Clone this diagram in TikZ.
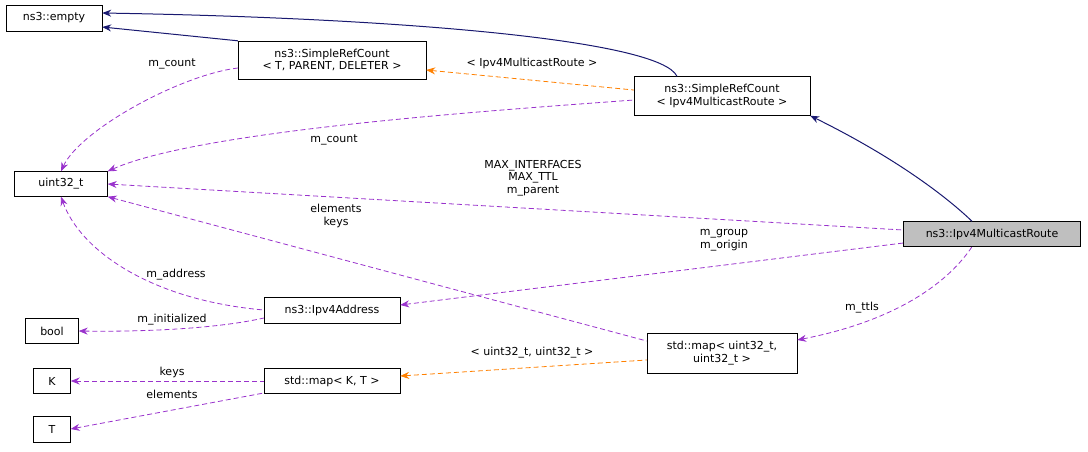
\documentclass[tikz,border=0pt]{standalone}
\usepackage{fontspec}
\setmainfont{DejaVu Sans}
\usetikzlibrary{arrows.meta}
\begin{document}
\begin{tikzpicture}[x=1pt,y=-1pt,
  box/.style={draw,inner sep=0pt,font=\fontsize{11}{12.5}\selectfont,align=center},
  lbl/.style={font=\fontsize{11}{12.5}\selectfont,align=center,inner sep=1pt},
  tip/.style={{Stealth[length=9pt,width=7pt]}-,line width=0.8pt},
  inh/.style={tip,color={rgb,255:red,25;green,25;blue,112},line width=1pt},
  use/.style={tip,color={rgb,255:red,153;green,50;blue,204},dash pattern=on 5pt off 3pt},
  tpl/.style={tip,color=orange,dash pattern=on 5pt off 3pt}]
\useasboundingbox (0,0) rectangle (1088,451);
\node[box,minimum width=96,minimum height=26] (empty) at (54,18) {ns3::empty};
\node[box,minimum width=188,minimum height=38] (srct) at (332,60) {ns3::SimpleRefCount\\\textless{} T, PARENT, DELETER \textgreater};
\node[box,minimum width=176,minimum height=39] (srci) at (722,96) {ns3::SimpleRefCount\\\textless{} Ipv4MulticastRoute \textgreater};
\node[box,minimum width=93,minimum height=25] (u32) at (61,184) {uint32\_t};
\node[box,minimum width=177,minimum height=25,fill={rgb,255:red,191;green,191;blue,191}] (route) at (992,234) {ns3::Ipv4MulticastRoute};
\node[box,minimum width=53,minimum height=25] (bool) at (52,331) {bool};
\node[box,minimum width=136,minimum height=26] (addr) at (332,310) {ns3::Ipv4Address};
\node[box,minimum width=150,minimum height=40] (mapu) at (722,353) {std::map\textless{} uint32\_t,\\uint32\_t \textgreater};
\node[box,minimum width=37,minimum height=25] (K) at (52,381) {K};
\node[box,minimum width=136,minimum height=25] (mapkt) at (332,381) {std::map\textless{} K, T \textgreater};
\node[box,minimum width=37,minimum height=26] (T) at (52,429) {T};

\draw[inh] (empty.east |- 0,27) -- (srct.north west);
\draw[inh] (empty.east |- 0,13) .. controls (400,18) and (660,40) .. (srci.north -| 677,0);
\draw[inh] (srci.south east) .. controls (900,160) and (950,200) .. (route.north -| 972,0);

\draw[use] (u32.north) .. controls (80,130) and (180,75) .. (srct.west |- 0,68);
\node[lbl] at (172,64) {m\_count};
\draw[use] (u32.north east) .. controls (200,130) and (500,110) .. (srci.west |- 0,100);
\node[lbl] at (334,140) {m\_count};
\draw[use] (u32.east) -- (route.west |- 0,230);
\node[lbl] at (533,178) {MAX\_INTERFACES\\MAX\_TTL\\m\_parent};
\draw[use] (u32.south east) -- (mapu.west |- 0,341);
\node[lbl] at (336,216) {elements\\keys};
\draw[use] (u32.south) .. controls (80,250) and (150,300) .. (addr.west);
\node[lbl] at (176,275) {m\_address};
\draw[use] (bool.east) .. controls (150,332) and (220,328) .. (addr.west |- 0,318);
\node[lbl] at (172,320) {m\_initialized};
\draw[use] (addr.east |- 0,305) -- (route.west |- 0,243);
\node[lbl] at (724,240) {m\_group\\m\_origin};
\draw[use] (mapu.east |- 0,340) .. controls (900,320) and (950,280) .. (route.south -| 972,0);
\node[lbl] at (862,308) {m\_ttls};
\draw[tpl] (mapkt.east |- 0,376) -- (mapu.west |- 0,360);
\node[lbl] at (532,353) {\textless{} uint32\_t, uint32\_t \textgreater};
\draw[tpl] (srct.east |- 0,70) -- (srci.west |- 0,90);
\node[lbl] at (532,63) {\textless{} Ipv4MulticastRoute \textgreater};
\draw[use] (K.east) -- (mapkt.west);
\node[lbl] at (172,372) {keys};
\draw[use] (T.east) -- (mapkt.west |- 0,393);
\node[lbl] at (172,394) {elements};
\end{tikzpicture}
\end{document}
